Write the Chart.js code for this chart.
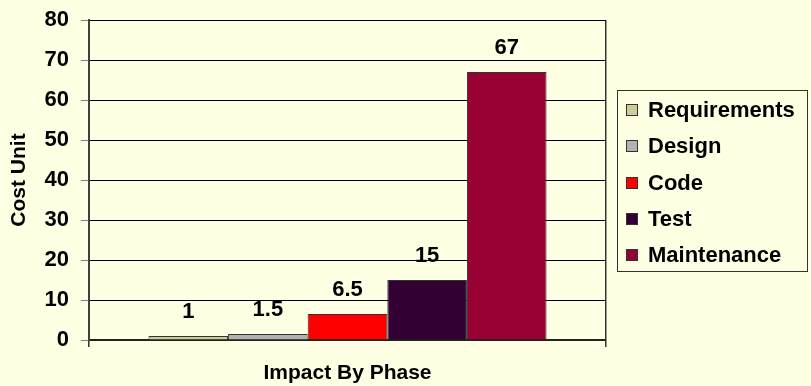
<!DOCTYPE html>
<html>
<head>
<meta charset="utf-8">
<script src="https://cdn.jsdelivr.net/npm/chart.js@4/dist/chart.umd.min.js"></script>
<style>
  html, body { margin: 0; padding: 0; background: #FFFFE3; }
  #wrap { width: 811px; height: 386px; position: relative; }
</style>
</head>
<body>
<div id="wrap"><canvas id="c" width="811" height="386"></canvas></div>
<script>
const categories = [''];
const phases = ['Requirements', 'Design', 'Code', 'Test', 'Maintenance'];
const costValues = [1, 1.5, 6.5, 15, 67];
const phaseColors = ['#CCCC99', '#B2B2B2', '#FF0000', '#330033', '#990033'];
const yTicks = [0, 10, 20, 30, 40, 50, 60, 70, 80];

const FONT = "'Liberation Sans', Arial, sans-serif";

const datasets = phases.map((p, i) => ({
  label: p,
  data: [costValues[i]],
  backgroundColor: phaseColors[i],
  borderColor: '#333333',
  borderWidth: 1,
  categoryPercentage: 0.77,
  barPercentage: 1.0
}));

const bgPlugin = {
  id: 'bg',
  beforeDraw(chart) {
    const ctx = chart.ctx;
    ctx.save();
    ctx.fillStyle = '#FFFFE3';
    ctx.fillRect(0, 0, chart.width, chart.height);
    ctx.restore();
  }
};

const labelPlugin = {
  id: 'valueLabels',
  afterDatasetsDraw(chart) {
    const ctx = chart.ctx;
    ctx.save();
    ctx.font = "bold 22px " + FONT;
    ctx.fillStyle = '#000';
    ctx.textAlign = 'center';
    ctx.textBaseline = 'middle';
    chart.data.datasets.forEach((ds, i) => {
      const meta = chart.getDatasetMeta(i);
      meta.data.forEach((bar, j) => {
        ctx.fillText(String(ds.data[j]), bar.x, bar.y - 24);
      });
    });
    ctx.restore();
  }
};

const legendPlugin = {
  id: 'boxLegend',
  afterDraw(chart) {
    const ctx = chart.ctx;
    const x0 = 617, y0 = 90, w = 190, h = 181;
    ctx.save();
    ctx.strokeStyle = '#333333';
    ctx.lineWidth = 1;
    ctx.strokeRect(x0 + 0.5, y0 + 0.5, w, h);
    ctx.font = "bold 22px " + FONT;
    ctx.textBaseline = 'middle';
    ctx.textAlign = 'left';
    chart.data.datasets.forEach((ds, i) => {
      const cy = y0 + 20 + i * 36.3;
      ctx.fillStyle = ds.backgroundColor;
      ctx.fillRect(626, Math.round(cy - 6), 12, 12);
      ctx.strokeStyle = '#333333';
      ctx.strokeRect(626.5, Math.round(cy - 6) + 0.5, 11, 11);
      ctx.fillStyle = '#000';
      ctx.fillText(ds.label, 648, cy + 1);
    });
    ctx.restore();
  }
};

new Chart(document.getElementById('c'), {
  type: 'bar',
  data: { labels: categories, datasets },
  options: {
    responsive: false,
    animation: false,
    devicePixelRatio: 1,
    layout: { padding: { top: 20, right: 205, bottom: 0, left: 0 } },
    plugins: {
      legend: { display: false },
      tooltip: { enabled: false }
    },
    scales: {
      x: {
        afterFit(scale) { scale.height = 46; scale.paddingLeft = 0; scale.paddingRight = 0; },
        grid: {
          display: true,
          drawOnChartArea: true,
          color: '#333333',
          lineWidth: 1.5,
          tickLength: 7,
          offset: true
        },
        border: { display: true, color: '#222222', width: 2 },
        ticks: { display: false },
        title: {
          display: true,
          text: 'Impact By Phase',
          color: '#000',
          font: { family: FONT, size: 21, weight: 'bold' },
          padding: { top: 0, bottom: 0 }
        }
      },
      y: {
        min: 0,
        max: 80,
        afterFit(scale) { scale.width = 89; scale.paddingTop = 0; scale.paddingBottom = 0; },
        afterBuildTicks(scale) { scale.ticks = yTicks.map(v => ({ value: v })); },
        grid: {
          color: '#000000',
          lineWidth: 1,
          tickColor: '#808080',
          tickLength: 8
        },
        border: { display: true, color: '#404040', width: 2 },
        ticks: {
          color: '#000',
          padding: 12,
          font: { family: FONT, size: 22, weight: 'bold' }
        },
        title: {
          display: true,
          text: 'Cost Unit',
          color: '#000',
          font: { family: FONT, size: 21, weight: 'bold' },
          padding: { top: 7, bottom: 0 }
        }
      }
    }
  },
  plugins: [bgPlugin, labelPlugin, legendPlugin]
});
</script>
</body>
</html>
